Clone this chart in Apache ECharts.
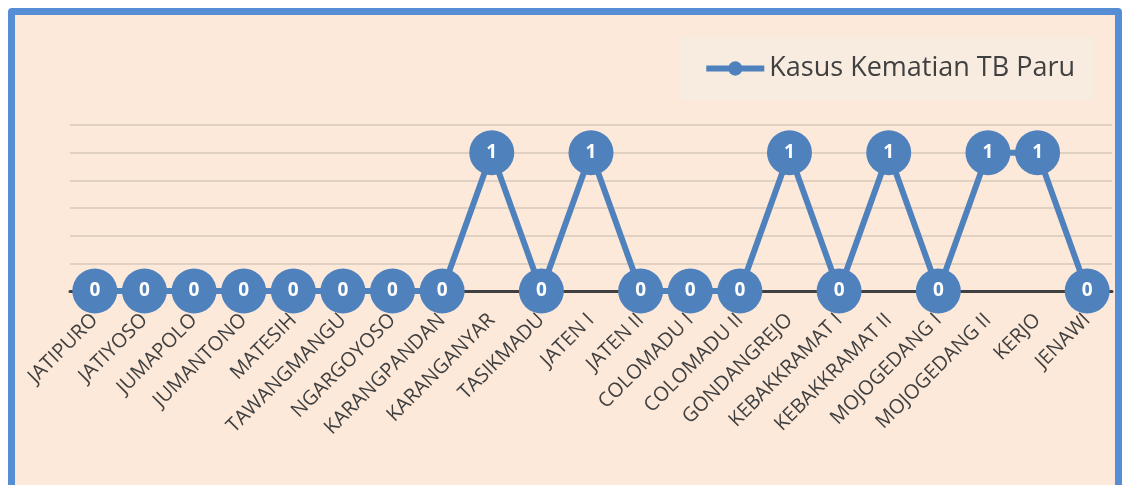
<!DOCTYPE html>
<html>
<head>
<meta charset="utf-8">
<script src="https://cdn.jsdelivr.net/npm/echarts@6/dist/echarts.min.js"></script>
<style>
  html, body { margin: 0; padding: 0; background: #ffffff; overflow: hidden; }
  #frame {
    position: absolute; left: 8px; top: 8px; width: 1100px; height: 500px;
    border: 7px solid #558ed5; border-radius: 4px; background: #fce9da;
  }
  #chart { position: absolute; left: 0; top: 0; width: 1123px; height: 485px; }
</style>
</head>
<body>
<div id="frame"></div>
<div id="chart"></div>
<script>
// kecamatan / puskesmas
const categories = [
  'JATIPURO', 'JATIYOSO', 'JUMAPOLO', 'JUMANTONO', 'MATESIH', 'TAWANGMANGU',
  'NGARGOYOSO', 'KARANGPANDAN', 'KARANGANYAR', 'TASIKMADU', 'JATEN I', 'JATEN II',
  'COLOMADU I', 'COLOMADU II', 'GONDANGREJO', 'KEBAKKRAMAT I', 'KEBAKKRAMAT II',
  'MOJOGEDANG I', 'MOJOGEDANG II', 'KERJO', 'JENAWI'
]
const kematian = [0, 0, 0, 0, 0, 0, 0, 0, 1, 0, 1, 0, 0, 0, 1, 0, 1, 0, 1, 1, 0]
const seriesName = 'Kasus Kematian TB Paru'

const chart = echarts.init(document.getElementById('chart'))
chart.setOption({
  backgroundColor: 'transparent',
  textStyle: { fontFamily: 'Open Sans' },
  legend: {
    data: [seriesName],
    right: 30,
    top: 37,
    padding: [18, 18, 18, 23],
    backgroundColor: '#f8ebe0',
    itemWidth: 58,
    itemHeight: 18,
    itemGap: 4,
    lineStyle: { width: 6 },
    textStyle: { color: '#404040', fontSize: 27, fontFamily: 'Open Sans' }
  },
  grid: { left: 70, right: 11, top: 125, bottom: 194, containLabel: false },
  xAxis: {
    type: 'category',
    data: categories,
    boundaryGap: true,
    axisLine: { lineStyle: { color: '#404040', width: 3 } },
    axisTick: { show: false },
    axisLabel: {
      rotate: 45,
      interval: 0,
      color: '#404040',
      fontSize: 20,
      margin: 26,
      fontFamily: 'Open Sans'
    }
  },
  yAxis: {
    type: 'value',
    min: 0,
    max: 1.2,
    interval: 0.2,
    axisLabel: { show: false },
    axisLine: { show: false },
    axisTick: { show: false },
    splitLine: { lineStyle: { color: '#d8c8bb', width: 1.5 } }
  },
  series: [
    {
      name: seriesName,
      type: 'line',
      data: kematian,
      symbol: 'circle',
      symbolSize: 45,
      lineStyle: { color: '#4f81bd', width: 6 },
      itemStyle: { color: '#4f81bd' },
      label: {
        show: true,
        position: 'inside',
        color: '#ffffff',
        fontSize: 19,
        fontWeight: 'bold'
      },
      z: 3
    }
  ]
})
</script>
</body>
</html>
